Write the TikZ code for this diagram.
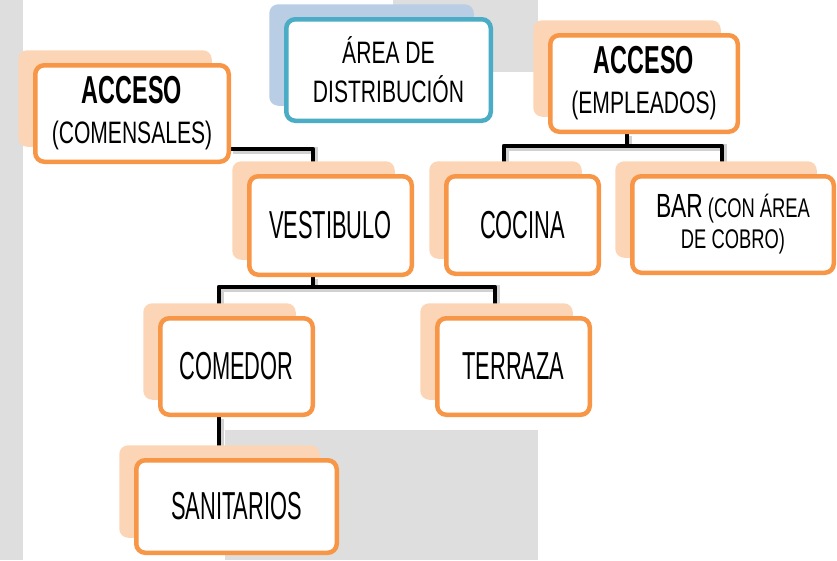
\documentclass[tikz,border=0pt]{standalone}
\usepackage{fontspec}
\setmainfont{Liberation Sans}
\newfontfamily\bigfont[FakeStretch=0.56,BoldFeatures={FakeStretch=0.6}]{Liberation Sans}
\newfontfamily\midfont[FakeStretch=0.68]{Liberation Sans}
\usetikzlibrary{shadows,backgrounds}
\definecolor{boxorange}{HTML}{F79646}
\definecolor{peach}{HTML}{FBD5B5}
\definecolor{boxblue}{HTML}{4BACC6}
\definecolor{paleblue}{HTML}{B9CDE5}
\definecolor{bggray}{HTML}{DEDEDE}

\begin{document}
\begin{tikzpicture}[x=1pt, y=-1pt,
    card/.style={line width=4.5pt, fill=white, rounded corners=9pt, inner sep=0pt,
        align=center, font=\bigfont\fontsize{39}{40}\selectfont},
    box/.style={card, draw=boxorange,
        general shadow={fill=peach, shadow xshift=-17pt, shadow yshift=15pt}},
    bluebox/.style={card, draw=boxblue,
        general shadow={fill=paleblue, shadow xshift=-17pt, shadow yshift=15pt}},
    sized/.style 2 args={minimum width=#1pt, minimum height=#2pt},
    link/.style={line width=4.5pt, line join=round,
        preaction={draw=black!18, line width=7pt, transform canvas={shift={(1.5pt,-1.5pt)}}}}]
    \useasboundingbox (0,0) rectangle (837,560);

    % Top row
    \node[box, sized={193.5}{96.5}] (com) at (132,113.5)
        {{\bfseries ACCESO}\\{\midfont\fontsize{31}{40}\selectfont (COMENSALES)}};
    \node[bluebox, sized={204.5}{101.5}, font=\midfont\fontsize{31}{39}\selectfont] (dist) at (388.5,70)
        {ÁREA DE\\DISTRIBUCIÓN};
    \node[box, sized={187.5}{96.5}] (emp) at (644,83.5)
        {{\bfseries ACCESO}\\{\midfont\fontsize{31}{40}\selectfont (EMPLEADOS)}};

    % Second row
    \node[box, sized={162.5}{98.5}] (vest) at (330.5,225.5) {VESTIBULO};
    \node[box, sized={152.5}{97.5}] (coc) at (522.5,225) {COCINA};
    \node[box, sized={201.5}{96.5}, font=\midfont\fontsize{27}{31}\selectfont] (bar) at (733,224.5)
        {{\fontsize{33.5}{31}\selectfont BAR} (CON ÁREA\\DE COBRO)};

    % Third and fourth rows
    \node[box, sized={152.5}{96.5}] (comd) at (236.5,366.5) {COMEDOR};
    \node[box, sized={152.5}{96.5}] (terr) at (513.5,366.5) {TERRAZA};
    \node[box, sized={200.5}{92.5}] (san) at (236.5,506.5) {SANITARIOS};

    \begin{scope}[on background layer]
        % Background panels
        \fill[bggray] (0,0) rectangle (23,560);
        \fill[bggray] (393,0) rectangle (538,72);
        \fill[bggray] (225,430) rectangle (538,560);

        % Connectors
        \coordinate (eb) at (627,146);
        \coordinate (vb) at (313,287);
        \draw[link] ([yshift=15pt]com.south east) -| ([xshift=-17.5pt]vest.north);
        \draw[link] ([xshift=-17pt]emp.south) -- (eb);
        \draw[link] ([xshift=-18.5pt]coc.north) |- (eb) -| ([xshift=-11pt]bar.north);
        \draw[link] ([xshift=-17.5pt]vest.south) -- (vb);
        \draw[link] ([xshift=-17.5pt]comd.north) |- (vb) -| ([xshift=-18.5pt]terr.north);
        \draw[link] ([xshift=-17.5pt]comd.south) -- ([xshift=-17.5pt]san.north);
    \end{scope}
\end{tikzpicture}
\end{document}
